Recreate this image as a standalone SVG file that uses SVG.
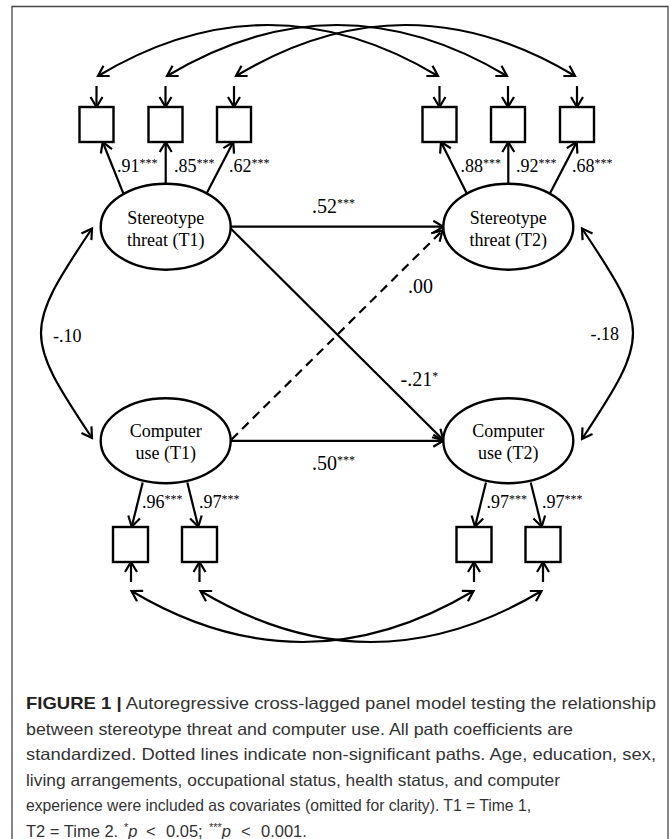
<svg xmlns="http://www.w3.org/2000/svg" width="670" height="839" viewBox="0 0 670 839">
<style>
.ln{fill:none;stroke:#000;stroke-width:2.2}
.dash{stroke-dasharray:9,6}
.box{fill:#fff;stroke:#000;stroke-width:2.4}
.ell{fill:#fff;stroke:#000;stroke-width:2.4}
.nt{font-family:"Liberation Serif","Times New Roman",serif;font-size:18px;fill:#000;text-anchor:middle}
.lb{font-family:"Liberation Serif","Times New Roman",serif;font-size:18px;fill:#000}
.pl{font-family:"Liberation Serif","Times New Roman",serif;font-size:20px;fill:#000}
.sup{font-size:12px}
.cap{font-family:"Liberation Sans",Arial,sans-serif;font-size:16.5px;fill:#333}
</style>
<defs>
<marker id="ah" viewBox="-12 -8 14 16" markerWidth="14" markerHeight="16" refX="0" refY="0" orient="auto-start-reverse" markerUnits="userSpaceOnUse">
<path d="M-10,-6 L0,0 L-10,6" fill="none" stroke="#000" stroke-width="2.2"/>
</marker>
</defs>
<rect width="670" height="839" fill="#fff"/>
<path d="M12,839 V6.5 H668 V839" fill="none" stroke="#444" stroke-width="1.3"/>

<g id="connectors">
<path class="ln" d="M98,76 Q268,-26 438,76" marker-start="url(#ah)" marker-end="url(#ah)"/>
<path class="ln" d="M167,76 Q337,-26 507,76" marker-start="url(#ah)" marker-end="url(#ah)"/>
<path class="ln" d="M236,76 Q405.5,-26 575,76" marker-start="url(#ah)" marker-end="url(#ah)"/>
<path class="ln" d="M96.5,86 V107" marker-end="url(#ah)"/>
<path class="ln" d="M165.5,86 V107" marker-end="url(#ah)"/>
<path class="ln" d="M234,86 V107" marker-end="url(#ah)"/>
<path class="ln" d="M439.5,86 V107" marker-end="url(#ah)"/>
<path class="ln" d="M508,86 V107" marker-end="url(#ah)"/>
<path class="ln" d="M577,86 V107" marker-end="url(#ah)"/>
<path class="ln" d="M123.3,193.3 L102.7,142" marker-end="url(#ah)"/>
<path class="ln" d="M165.7,184 V142" marker-end="url(#ah)"/>
<path class="ln" d="M206.7,193.3 L233.3,142" marker-end="url(#ah)"/>
<path class="ln" d="M466.7,193.3 L441,142" marker-end="url(#ah)"/>
<path class="ln" d="M508.3,184 V142" marker-end="url(#ah)"/>
<path class="ln" d="M550,193.3 L576.7,142" marker-end="url(#ah)"/>
<path class="ln" d="M142.7,482.5 L131.7,526.7" marker-end="url(#ah)"/>
<path class="ln" d="M187.3,482.5 L198.3,526.7" marker-end="url(#ah)"/>
<path class="ln" d="M486,482.5 L475,526.7" marker-end="url(#ah)"/>
<path class="ln" d="M530.7,482.5 L541.7,526.7" marker-end="url(#ah)"/>
<path class="ln" d="M131,582 V562" marker-end="url(#ah)"/>
<path class="ln" d="M199.5,582 V562" marker-end="url(#ah)"/>
<path class="ln" d="M474,582 V562" marker-end="url(#ah)"/>
<path class="ln" d="M543,582 V562" marker-end="url(#ah)"/>
<path class="ln" d="M131.5,591 Q302.5,693 473.5,591" marker-start="url(#ah)" marker-end="url(#ah)"/>
<path class="ln" d="M200.5,591 Q371,693 541.5,591" marker-start="url(#ah)" marker-end="url(#ah)"/>
<path class="ln" d="M230.7,226.7 H443.3" marker-end="url(#ah)"/>
<path class="ln" d="M230.7,440.8 H443.3" marker-end="url(#ah)"/>
<path class="ln" d="M230.7,228.5 L443.3,440" marker-end="url(#ah)"/>
<path class="ln dash" d="M231.5,439.5 L442.5,230.5" marker-end="url(#ah)"/>
<path class="ln" d="M92,228.5 C24,330 24,336 92,438" marker-start="url(#ah)" marker-end="url(#ah)"/>
<path class="ln" d="M582,228.5 C650,330 650,336 582,439" marker-start="url(#ah)" marker-end="url(#ah)"/>
</g>

<g id="labels">
<text class="lb" x="117" y="171.7">.91<tspan class="sup" dy="-5">***</tspan></text>
<text class="lb" x="174" y="171.7">.85<tspan class="sup" dy="-5">***</tspan></text>
<text class="lb" x="229" y="171.7">.62<tspan class="sup" dy="-5">***</tspan></text>
<text class="lb" x="460.5" y="171.7">.88<tspan class="sup" dy="-5">***</tspan></text>
<text class="lb" x="516" y="171.7">.92<tspan class="sup" dy="-5">***</tspan></text>
<text class="lb" x="572" y="171.7">.68<tspan class="sup" dy="-5">***</tspan></text>
<text class="lb" x="142" y="508.3">.96<tspan class="sup" dy="-5">***</tspan></text>
<text class="lb" x="199" y="508.3">.97<tspan class="sup" dy="-5">***</tspan></text>
<text class="lb" x="486.5" y="508.3">.97<tspan class="sup" dy="-5">***</tspan></text>
<text class="lb" x="542" y="508.3">.97<tspan class="sup" dy="-5">***</tspan></text>
<text class="pl" x="312" y="212.7">.52<tspan class="sup" dy="-6">***</tspan></text>
<text class="pl" x="312" y="470">.50<tspan class="sup" dy="-6">***</tspan></text>
<text class="pl" x="400.5" y="386">-.21<tspan class="sup" dy="-6">*</tspan></text>
<text class="pl" x="408" y="292.7">.00</text>
<text class="lb" x="53" y="341.7">-.10</text>
<text class="lb" x="590.5" y="340">-.18</text>
</g>

<g id="box-st1-1"><rect class="box" x="79.5" y="107" width="34" height="35"/></g>
<g id="box-st1-2"><rect class="box" x="148.5" y="107" width="34" height="35"/></g>
<g id="box-st1-3"><rect class="box" x="217" y="107" width="34" height="35"/></g>
<g id="box-st2-1"><rect class="box" x="422.5" y="107" width="34" height="35"/></g>
<g id="box-st2-2"><rect class="box" x="491" y="107" width="34" height="35"/></g>
<g id="box-st2-3"><rect class="box" x="560" y="107" width="34" height="35"/></g>
<g id="box-cu1-1"><rect class="box" x="113" y="527" width="35" height="35"/></g>
<g id="box-cu1-2"><rect class="box" x="182" y="527" width="35" height="35"/></g>
<g id="box-cu2-1"><rect class="box" x="456.5" y="527" width="35" height="35"/></g>
<g id="box-cu2-2"><rect class="box" x="525.5" y="527" width="35" height="35"/></g>

<g id="st1"><ellipse class="ell" cx="165.7" cy="226.7" rx="65" ry="43"/>
<text class="nt" x="165.7" y="224">Stereotype</text><text class="nt" x="165.7" y="246">threat (T1)</text></g>
<g id="st2"><ellipse class="ell" cx="508.3" cy="226.7" rx="65" ry="43"/>
<text class="nt" x="508.3" y="224">Stereotype</text><text class="nt" x="508.3" y="246">threat (T2)</text></g>
<g id="cu1"><ellipse class="ell" cx="165.7" cy="440.8" rx="65" ry="42.5"/>
<text class="nt" x="165.7" y="437">Computer</text><text class="nt" x="165.7" y="459">use (T1)</text></g>
<g id="cu2"><ellipse class="ell" cx="508.3" cy="440.8" rx="65" ry="42.5"/>
<text class="nt" x="508.3" y="437">Computer</text><text class="nt" x="508.3" y="459">use (T2)</text></g>

<g id="caption">
<text class="cap" x="26" y="709" textLength="630" lengthAdjust="spacingAndGlyphs"><tspan font-weight="bold" fill="#222">FIGURE 1 |</tspan> Autoregressive cross-lagged panel model testing the relationship</text>
<text class="cap" x="26" y="734.5" textLength="547" lengthAdjust="spacingAndGlyphs">between stereotype threat and computer use. All path coefficients are</text>
<text class="cap" x="26" y="760" textLength="630" lengthAdjust="spacingAndGlyphs">standardized. Dotted lines indicate non-significant paths. Age, education, sex,</text>
<text class="cap" x="26" y="785.5" textLength="534" lengthAdjust="spacingAndGlyphs">living arrangements, occupational status, health status, and computer</text>
<text class="cap" x="26" y="811" textLength="505" lengthAdjust="spacingAndGlyphs">experience were included as covariates (omitted for clarity). T1 = Time 1,</text>
<text class="cap" y="836.5"><tspan x="26">T2 = Time 2.</tspan><tspan x="124" font-size="11" dy="-6">*</tspan><tspan font-style="italic" dy="6">p</tspan><tspan x="146">&lt;</tspan><tspan x="166">0.05;</tspan><tspan x="209" font-size="11" dy="-6">***</tspan><tspan font-style="italic" dy="6">p</tspan><tspan x="241">&lt;</tspan><tspan x="261">0.001.</tspan></text>
</g>
</svg>
